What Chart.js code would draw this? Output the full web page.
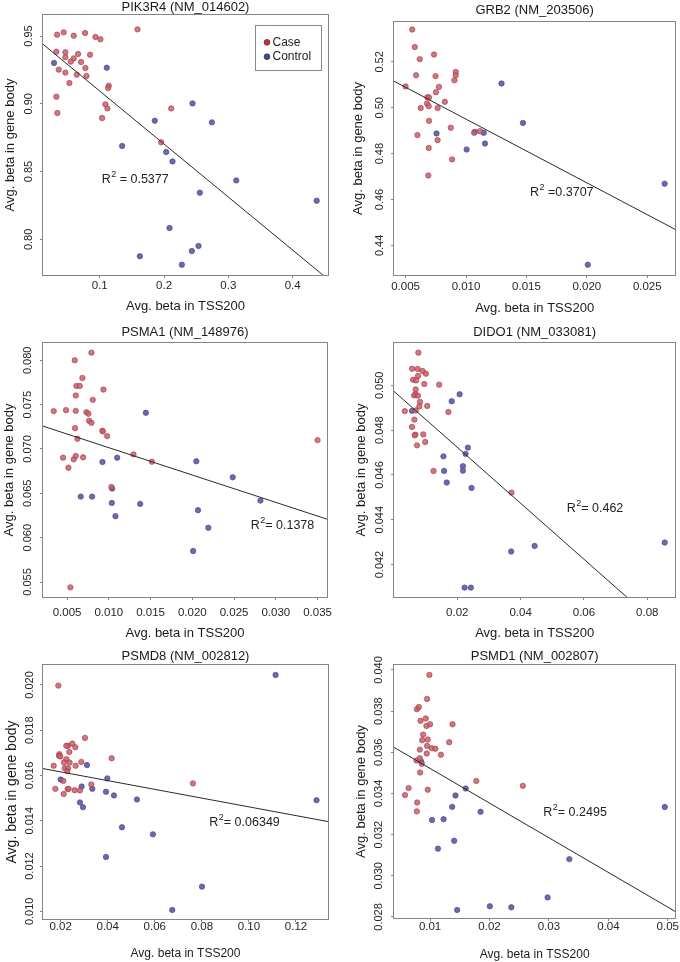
<!DOCTYPE html>
<html><head><meta charset="utf-8">
<script src="https://cdn.jsdelivr.net/npm/chart.js@4.4.1/dist/chart.umd.min.js"></script>
<style>
html,body{margin:0;padding:0;background:#fff;}
#wrap{position:relative;width:680px;height:962px;overflow:hidden;background:#fff;}
canvas{position:absolute;}
</style></head><body><div id="wrap"></div>
<script>
// ---------------- data ----------------
const titles = ['PIK3R4 (NM_014602)','GRB2 (NM_203506)','PSMA1 (NM_148976)','DIDO1 (NM_033081)','PSMD8 (NM_002812)','PSMD1 (NM_002807)'];
const seriesNames = ['Case','Control'];
const xAxisTitle = 'Avg. beta in TSS200';
const yAxisTitle = 'Avg. beta in gene body';

const pik3r4Case = [[0.0336,0.951],[0.0439,0.9527],[0.0595,0.9502],[0.0772,0.9522],[0.0933,0.9493],[0.101,0.9476],[0.1587,0.9549],[0.0325,0.9384],[0.0465,0.938],[0.0663,0.9367],[0.0849,0.9362],[0.0465,0.9343],[0.0595,0.9335],[0.0548,0.9311],[0.0709,0.9308],[0.0362,0.9252],[0.0777,0.9264],[0.0465,0.923],[0.0642,0.9215],[0.0792,0.9205],[0.0528,0.9153],[0.114,0.9134],[0.113,0.9116],[0.0325,0.9052],[0.0341,0.8932],[0.1088,0.8996],[0.1119,0.8966],[0.1036,0.8895],[0.2111,0.8966],[0.1955,0.8716]];
const pik3r4Control = [[0.0289,0.9301],[0.1109,0.9266],[0.1856,0.8875],[0.2443,0.9003],[0.2744,0.8863],[0.1348,0.8689],[0.2033,0.8644],[0.2131,0.8575],[0.3123,0.8435],[0.2557,0.8344],[0.4374,0.8285],[0.2085,0.8084],[0.1623,0.7875],[0.2277,0.7813],[0.2432,0.7914],[0.2536,0.7951]];

const grb2Case = [[0.00555,0.5341],[0.00576,0.5265],[0.00617,0.5212],[0.00735,0.5232],[0.00587,0.5142],[0.00748,0.5138],[0.00915,0.5156],[0.00915,0.5142],[0.00904,0.512],[0.0050,0.5093],[0.00776,0.5091],[0.00751,0.5068],[0.0068,0.5046],[0.00694,0.5045],[0.00825,0.5026],[0.00677,0.5019],[0.00691,0.5007],[0.00625,0.4999],[0.00765,0.4999],[0.00694,0.4943],[0.00874,0.4913],[0.00598,0.4881],[0.00765,0.4859],[0.00691,0.4825],[0.00885,0.4775],[0.00688,0.4705],[0.01067,0.4891],[0.01116,0.4898]];
const grb2Control = [[0.00756,0.4888],[0.01073,0.4895],[0.01147,0.4891],[0.01157,0.4844],[0.01005,0.4818],[0.01294,0.5106],[0.01471,0.4934],[0.02644,0.4669],[0.02008,0.4316]];

const psma1Case = [[0.00792,0.08086],[0.00592,0.08],[0.00684,0.07801],[0.00612,0.07711],[0.00652,0.07711],[0.00936,0.0767],[0.00604,0.07603],[0.00808,0.07554],[0.0034,0.07427],[0.00488,0.07438],[0.00604,0.0743],[0.00732,0.07415],[0.00756,0.07397],[0.00764,0.07318],[0.00792,0.07295],[0.00924,0.07205],[0.00928,0.07198],[0.0098,0.07145],[0.00596,0.07235],[0.00624,0.07115],[0.00452,0.06902],[0.00516,0.06789],[0.0058,0.06883],[0.00604,0.06921],[0.00692,0.06906],[0.01296,0.06939],[0.01516,0.06857],[0.01032,0.06572],[0.0054,0.0544],[0.035,0.071]];
const psma1Control = [[0.01444,0.07408],[0.00924,0.06853],[0.011,0.06902],[0.00664,0.06463],[0.008,0.06463],[0.0104,0.06553],[0.01036,0.06392],[0.0108,0.06242],[0.01376,0.06381],[0.02048,0.06861],[0.02068,0.0631],[0.02192,0.06111],[0.02484,0.06681],[0.02816,0.06418],[0.0201,0.05849]];

const dido1Case = [[0.00769,0.05146],[0.0057,0.05074],[0.00748,0.05073],[0.00904,0.05064],[0.01009,0.05052],[0.00758,0.05042],[0.00602,0.05025],[0.00696,0.05022],[0.00956,0.05006],[0.01426,0.05003],[0.00685,0.04982],[0.00675,0.0496],[0.00633,0.04955],[0.00758,0.04954],[0.00821,0.04926],[0.008,0.04906],[0.0105,0.04908],[0.00341,0.04885],[0.00685,0.04888],[0.01718,0.04881],[0.00643,0.04847],[0.0057,0.04814],[0.00925,0.04781],[0.00675,0.0478],[0.00654,0.04777],[0.00988,0.04747],[0.00727,0.04732],[0.01249,0.04618],[0.03711,0.04521]];
const dido1Control = [[0.0057,0.04886],[0.01823,0.04929],[0.02073,0.0496],[0.02334,0.04722],[0.02261,0.04694],[0.01562,0.04683],[0.02177,0.04639],[0.02177,0.04619],[0.01583,0.04618],[0.01666,0.04566],[0.02449,0.04542],[0.03701,0.04258],[0.04442,0.04283],[0.08553,0.04298],[0.0223,0.04097],[0.02428,0.04097]];

const psmd8Case = [[0.01901,0.01997],[0.01703,0.01643],[0.01943,0.01694],[0.01929,0.01687],[0.01986,0.01684],[0.02312,0.01731],[0.02241,0.01731],[0.02496,0.01741],[0.02623,0.01725],[0.03034,0.01766],[0.02368,0.01704],[0.02241,0.01672],[0.02142,0.01657],[0.02382,0.01657],[0.02878,0.0166],[0.02637,0.01643],[0.0217,0.01632],[0.02312,0.01632],[0.02283,0.01619],[0.02113,0.01576],[0.01773,0.01541],[0.02297,0.0154],[0.0234,0.01541],[0.02595,0.01535],[0.02821,0.01534],[0.02127,0.01518],[0.03303,0.0156],[0.04166,0.01676],[0.07621,0.01565]];
const psmd8Control = [[0.02,0.01582],[0.03119,0.01646],[0.03982,0.01587],[0.02892,0.01551],[0.03345,0.01541],[0.03926,0.01528],[0.04265,0.01512],[0.02821,0.01481],[0.02949,0.0146],[0.05242,0.01494],[0.04605,0.01371],[0.05922,0.0134],[0.03926,0.0124],[0.08004,0.01109],[0.06743,0.01006],[0.11133,0.02044],[0.12874,0.01491]];

const psmd1Case = [[0.00989,0.03976],[0.0095,0.03859],[0.00778,0.03809],[0.00811,0.0382],[0.00839,0.03753],[0.00928,0.03764],[0.01,0.03736],[0.00939,0.03728],[0.00883,0.03686],[0.00867,0.03659],[0.00961,0.03662],[0.0095,0.03631],[0.01028,0.0362],[0.01089,0.03617],[0.00944,0.03594],[0.01183,0.03588],[0.00772,0.0356],[0.00828,0.03571],[0.00861,0.03544],[0.00833,0.03502],[0.01322,0.03649],[0.01378,0.03736],[0.01778,0.03461],[0.02561,0.03437],[0.00578,0.03392],[0.00639,0.03426],[0.00961,0.03418],[0.00783,0.03356],[0.00778,0.03313],[0.00828,0.03613]];
const psmd1Control = [[0.0085,0.03555],[0.016,0.03424],[0.01428,0.0339],[0.01372,0.03335],[0.01033,0.03271],[0.01228,0.03275],[0.0185,0.03311],[0.01406,0.0317],[0.01133,0.03132],[0.03344,0.03081],[0.02978,0.02895],[0.01456,0.02834],[0.02006,0.02852],[0.02367,0.02847],[0.0495,0.03334]];

// regression fits (intercept, slope) and R^2 labels
const regIntercepts = [0.9485, 0.5228, 0.07323, 0.04973, 0.016546, 0.03690];
const regSlopes = [-0.391, -2.776, -0.3084, -0.1249, -0.01933, -0.1684];
const r2Values = ['0.5377','0.3707','0.1378','0.462','0.06349','0.2495'];

// tick labels
const p1XTicks = ['0.1','0.2','0.3','0.4'];
const p1YTicks = ['0.80','0.85','0.90','0.95'];
const p2XTicks = ['0.005','0.010','0.015','0.020','0.025'];
const p2YTicks = ['0.44','0.46','0.48','0.50','0.52'];
const p3XTicks = ['0.005','0.010','0.015','0.020','0.025','0.030','0.035'];
const p3YTicks = ['0.055','0.060','0.065','0.070','0.075','0.080'];
const p4XTicks = ['0.02','0.04','0.06','0.08'];
const p4YTicks = ['0.042','0.044','0.046','0.048','0.050'];
const p5XTicks = ['0.02','0.04','0.06','0.08','0.10','0.12'];
const p5YTicks = ['0.010','0.012','0.014','0.016','0.018','0.020'];
const p6XTicks = ['0.01','0.02','0.03','0.04','0.05'];
const p6YTicks = ['0.028','0.030','0.032','0.034','0.036','0.038','0.040'];

// ---------------- layout / style ----------------
const FONT = "'Liberation Sans', Arial, sans-serif";
const TL = 3;
const caseStyle = {bg:'rgba(200,95,105,0.85)', border:'rgba(165,55,70,0.9)'};
const ctrlStyle = {bg:'rgba(98,98,168,0.95)', border:'rgba(70,70,150,0.95)'};
const legendColors = ['#d42a2a','#3a4aa0'];

const panels = [
 {left:0,top:0,w:340,h:320, caseD:pik3r4Case, ctrlD:pik3r4Control, xT:p1XTicks, yT:p1YTicks, xr:[0.0117,0.455], yr:[0.7737,0.9655], box:[43,15,328,275], titleY:7.3, xLabelY:286, xTitleY:306, yLabelX:29, yTitleX:10.7, r2pos:[101.7,180], r2sep:' = ', legend:true, xTitleSize:13, yTitleSize:13},
 {left:340,top:0,w:340,h:320, caseD:grb2Case, ctrlD:grb2Control, xT:p2XTicks, yT:p2YTicks, xr:[0.00404,0.02732], yr:[0.4271,0.5374], box:[54,22,338,275], titleY:10, xLabelY:286.7, xTitleY:308, yLabelX:40, yTitleX:18.3, r2pos:[190,192.7], r2sep:' =', xTitleSize:13, yTitleSize:13},
 {left:0,top:320,w:340,h:320, caseD:psma1Case, ctrlD:psma1Control, xT:p3XTicks, yT:p3YTicks, xr:[0.00212,0.03613], yr:[0.05331,0.08195], box:[43,23,327,277], titleY:12.7, xLabelY:293.3, xTitleY:313.3, yLabelX:28.3, yTitleX:9.3, r2pos:[250.7,206], r2sep:'= ', xTitleSize:13, yTitleSize:13},
 {left:340,top:320,w:340,h:320, caseD:dido1Case, ctrlD:dido1Control, xT:p4XTicks, yT:p4YTicks, xr:[0.0,0.08886], yr:[0.04055,0.05189], box:[54,23,338,277], titleY:12.7, xLabelY:293.3, xTitleY:313.3, yLabelX:40, yTitleX:21.7, r2pos:[226.7,189], r2sep:'= ', xTitleSize:13, yTitleSize:13},
 {left:0,top:640,w:340,h:322, caseD:psmd8Case, ctrlD:psmd8Control, xT:p5XTicks, yT:p5YTicks, xr:[0.0125,0.1336], yr:[0.00966,0.02088], box:[43,25,328,279], titleY:16, xLabelY:286.7, xTitleY:313.3, yLabelX:30, yTitleX:11.7, r2pos:[209.3,182.7], r2sep:'= ', xTitleSize:12, yTitleSize:14},
 {left:340,top:640,w:340,h:322, caseD:psmd1Case, ctrlD:psmd1Control, xT:p6XTicks, yT:p6YTicks, xr:[0.00393,0.05127], yr:[0.02795,0.04024], box:[54,25,338,278], titleY:16, xLabelY:287.3, xTitleY:315, yLabelX:39.3, yTitleX:21.7, r2pos:[203.3,172.3], r2sep:'= ', xTitleSize:12, yTitleSize:13}
];

const mctx = document.createElement('canvas').getContext('2d');
function textW(s, size){ mctx.font = size + 'px ' + FONT; return mctx.measureText(s).width; }

const decor = {
  id:'decor',
  afterDatasetsDraw(chart, args, o){
    const ctx = chart.ctx, ca = chart.chartArea;
    ctx.save();
    ctx.strokeStyle = '#858585'; ctx.lineWidth = 1;
    const l = Math.round(ca.left)-0.5, t = Math.round(ca.top)-0.5;
    ctx.strokeRect(l, t, Math.round(ca.right)-Math.round(ca.left)+1, Math.round(ca.bottom)-Math.round(ca.top)+1);
    ctx.fillStyle = '#222'; ctx.textBaseline = 'middle'; ctx.textAlign = 'left';
    let x = o.r2pos[0], y = o.r2pos[1];
    ctx.font = '12.5px ' + FONT; ctx.fillText('R', x, y); x += ctx.measureText('R').width;
    ctx.font = '9px ' + FONT; ctx.fillText('2', x+0.5, y-5); x += ctx.measureText('2').width + 0.5;
    ctx.font = '12.5px ' + FONT; ctx.fillText(o.r2sep + o.r2, x, y);
    if (o.legend) {
      const bx = 255.5, by = 25.5, bw = 66, bh = 45;
      ctx.fillStyle = '#fff'; ctx.fillRect(bx, by, bw, bh);
      ctx.strokeStyle = '#8a8a8a'; ctx.strokeRect(bx, by, bw, bh);
      ctx.font = '12px ' + FONT;
      seriesNames.forEach((nm, i) => {
        const cy = 42.3 + i*14.4;
        ctx.beginPath(); ctx.arc(267, cy, 2.9, 0, Math.PI*2);
        ctx.fillStyle = legendColors[i]; ctx.fill();
        ctx.strokeStyle = '#333'; ctx.lineWidth = 0.7; ctx.stroke();
        ctx.fillStyle = '#222'; ctx.fillText(nm, 272.5, cy);
      });
    }
    ctx.restore();
  }
};

const wrap = document.getElementById('wrap');
panels.forEach((p, i) => {
  const cv = document.createElement('canvas');
  cv.width = p.w; cv.height = p.h;
  cv.style.left = p.left + 'px'; cv.style.top = p.top + 'px';
  cv.style.width = p.w + 'px'; cv.style.height = p.h + 'px';
  wrap.appendChild(cv);
  const xVals = p.xT.map(Number), yVals = p.yT.map(Number);
  const xFs = 11.5, yFs = 11;
  const widest = Math.max(...p.yT.map(s => textW(s, yFs)));
  const yPad = p.box[0] - p.yLabelX - TL - widest/2;
  const xPad = p.xLabelY - p.box[3] - TL - xFs/2;
  const b0 = regIntercepts[i], m = regSlopes[i];
  const fitLine = [{x:p.xr[0], y:b0 + m*p.xr[0]}, {x:p.xr[1], y:b0 + m*p.xr[1]}];
  new Chart(cv, {
    type:'scatter',
    data:{datasets:[
      {type:'line', label:'fit', data:fitLine, borderColor:'#2a2a2a', borderWidth:1, pointRadius:0, fill:false, tension:0},
      {label:seriesNames[0], data:p.caseD.map(d=>({x:d[0],y:d[1]})), backgroundColor:caseStyle.bg, borderColor:caseStyle.border, borderWidth:0.7, pointRadius:2.7},
      {label:seriesNames[1], data:p.ctrlD.map(d=>({x:d[0],y:d[1]})), backgroundColor:ctrlStyle.bg, borderColor:ctrlStyle.border, borderWidth:0.7, pointRadius:2.7}
    ]},
    options:{
      responsive:false, animation:false, devicePixelRatio:1,
      layout:{padding:{left:0, top:0, right:p.w - p.box[2], bottom:0}},
      plugins:{
        legend:{display:false}, tooltip:{enabled:false},
        title:{display:true, text:titles[i], fullSize:false, color:'#1a1a1a',
               font:{family:FONT, size:13, lineHeight:1, weight:'normal'},
               padding:{top:p.titleY - 6.5, bottom:p.box[1] - p.titleY - 6.5}},
        decor:{r2pos:p.r2pos, r2sep:p.r2sep, r2:r2Values[i], legend:!!p.legend}
      },
      scales:{
        x:{type:'linear', position:'bottom', min:p.xr[0], max:p.xr[1],
           afterBuildTicks:s => { s.ticks = xVals.map(v=>({value:v})); },
           afterFit:s => { s.height = p.h - p.box[3]; s.paddingLeft = 0; s.paddingRight = 0; },
           grid:{display:true, drawOnChartArea:false, drawTicks:true, tickLength:TL, color:'#858585', lineWidth:1},
           border:{display:false},
           ticks:{autoSkip:false, maxRotation:0, minRotation:0, padding:xPad, color:'#262626',
                  font:{family:FONT, size:xFs, lineHeight:1},
                  callback:(v) => { const k = xVals.indexOf(v); return k >= 0 ? p.xT[k] : ''; }},
           title:{display:true, text:xAxisTitle, color:'#1a1a1a', font:{family:FONT, size:p.xTitleSize, lineHeight:1, weight:'normal'},
                  padding:{top:0, bottom:p.h - p.xTitleY - p.xTitleSize/2}}
        },
        y:{type:'linear', position:'left', min:p.yr[0], max:p.yr[1],
           afterBuildTicks:s => { s.ticks = yVals.map(v=>({value:v})); },
           afterFit:s => { s.width = p.box[0]; s.paddingTop = 0; s.paddingBottom = 0; },
           grid:{display:true, drawOnChartArea:false, drawTicks:true, tickLength:TL, color:'#858585', lineWidth:1},
           border:{display:false},
           ticks:{autoSkip:false, minRotation:90, maxRotation:90, crossAlign:'center', padding:yPad, color:'#262626',
                  font:{family:FONT, size:yFs, lineHeight:1},
                  callback:(v) => { const k = yVals.indexOf(v); return k >= 0 ? p.yT[k] : ''; }},
           title:{display:true, text:yAxisTitle, color:'#1a1a1a', font:{family:FONT, size:p.yTitleSize, lineHeight:1, weight:'normal'},
                  padding:{top:p.yTitleX - p.yTitleSize/2, bottom:0}}
        }
      }
    },
    plugins:[decor]
  });
});
</script></body></html>
